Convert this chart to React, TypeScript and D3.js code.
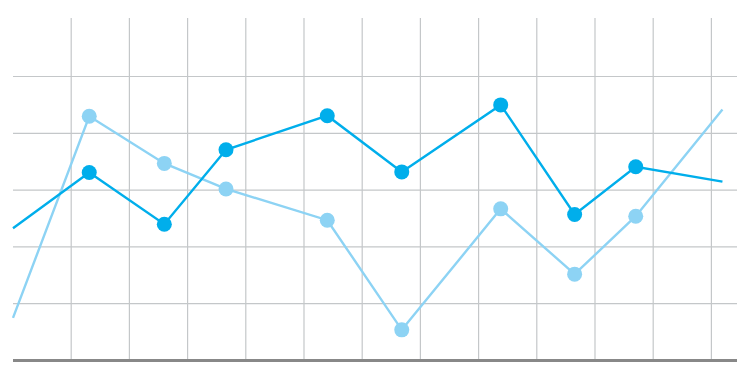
import React from "react";
import * as d3 from "d3";

const xValues = [0, 1.31, 2.6, 3.66, 5.4, 6.68, 8.38, 9.65, 10.7, 12.19];
const seriesDark = [23.3, 33.1, 24.0, 37.1, 43.1, 33.2, 45.0, 25.7, 34.1, 31.5];
const seriesLight = [7.5, 43.0, 34.7, 30.2, 24.7, 5.4, 26.7, 15.2, 25.4, 44.2];
const yTicks = [10, 20, 30, 40, 50];
const xTicks = [1, 2, 3, 4, 5, 6, 7, 8, 9, 10, 11, 12];

const W = 750;
const H = 380;
const left = 13;
const right = 737;
const top = 18;
const bottom = 360.5;

export default function App() {
  const x = d3.scaleLinear().domain([0, 12.44]).range([left, right]);
  const y = d3.scaleLinear().domain([0, 60.3]).range([bottom, top]);
  const line = d3
    .line<number>()
    .x((_, i) => x(xValues[i]))
    .y((d) => y(d));

  const series = [
    { values: seriesLight, color: "#8dd3f4" },
    { values: seriesDark, color: "#00aeeb" },
  ];

  return (
    <svg
      width={W}
      height={H}
      style={{ position: "absolute", left: 0, top: 0, background: "#fff" }}
    >
      {yTicks.map((t) => (
        <line
          key={"h" + t}
          x1={left}
          x2={right}
          y1={y(t)}
          y2={y(t)}
          stroke="#c4c7c9"
          strokeWidth={1.2}
        />
      ))}
      {xTicks.map((t) => (
        <line
          key={"v" + t}
          x1={x(t)}
          x2={x(t)}
          y1={top}
          y2={bottom}
          stroke="#c4c7c9"
          strokeWidth={1.2}
        />
      ))}
      <line
        x1={left}
        x2={right}
        y1={bottom}
        y2={bottom}
        stroke="#888888"
        strokeWidth={3}
      />
      {series.map((s, si) => (
        <g key={si}>
          <path
            d={line(s.values) || ""}
            fill="none"
            stroke={s.color}
            strokeWidth={2.4}
          />
          {s.values.map((v, i) =>
            i === 0 || i === s.values.length - 1 ? null : (
              <circle
                key={i}
                cx={x(xValues[i])}
                cy={y(v)}
                r={7.5}
                fill={s.color}
              />
            )
          )}
        </g>
      ))}
    </svg>
  );
}
